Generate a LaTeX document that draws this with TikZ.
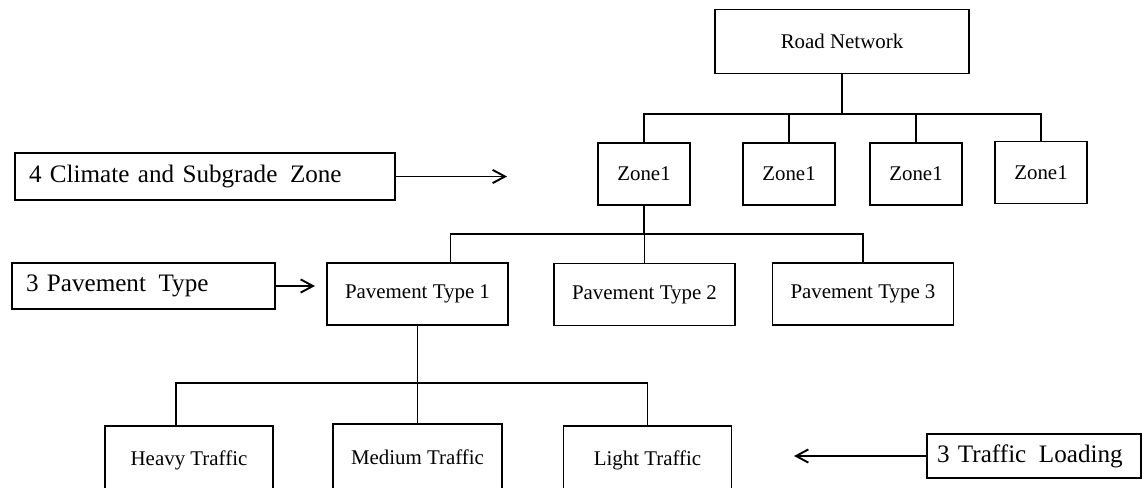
\documentclass[tikz,border=0pt]{standalone}
\usepackage{fontspec}
\setmainfont{Liberation Serif}
\usetikzlibrary{arrows.meta, positioning, calc}

\begin{document}
\begin{tikzpicture}[
  x=0.02cm, y=-0.02cm,
  box/.style={rectangle, draw=black, line width=1.1pt, inner sep=0pt,
              font=\fontsize{11.9}{14}\selectfont, align=center},
  tagbox/.style={rectangle, draw=black, line width=1.1pt, inner ysep=0pt,
                 font=\fontsize{14.3}{17}\selectfont, align=left},
  >={Straight Barb[length=7pt, width=7.5pt]},
  line width=1.1pt
]
\useasboundingbox (0,0) rectangle (1143,487);
\clip (0,0) rectangle (1143,487);

% ── Top of the tree ──
\node[box, minimum width=5.08cm, minimum height=1.28cm] (road) at (842,41.5) {Road Network};

% ── Zones ──
\node[box, minimum width=1.84cm, minimum height=1.24cm] (z1) at (644,174) {Zone1};
\node[box, minimum width=1.84cm, minimum height=1.24cm] (z2) at (789,174) {Zone1};
\node[box, minimum width=1.84cm, minimum height=1.24cm] (z3) at (916,174) {Zone1};
\node[box, minimum width=1.84cm, minimum height=1.24cm] (z4) at (1041,172.5) {Zone1};

% ── Pavement types ──
\node[box, minimum width=3.62cm, minimum height=1.24cm] (pt1) at (417.5,294) {Pavement Type 1};
\node[box, minimum width=3.62cm, minimum height=1.24cm] (pt2) at (644.5,294.5) {Pavement Type 2};
\node[box, minimum width=3.62cm, minimum height=1.24cm] (pt3) at (863,294) {Pavement Type 3};

% ── Traffic levels ──
\node[box, minimum width=3.36cm, minimum height=1.36cm] (heavy) at (189,460) {Heavy Traffic};
\node[box, minimum width=3.38cm, minimum height=1.32cm] (medium) at (417.5,457) {Medium Traffic};
\node[box, minimum width=3.36cm, minimum height=1.36cm] (light) at (647.5,460) {Light Traffic};

% ── Side tags ──
\node[tagbox, inner xsep=0.28cm, text width=7.04cm, minimum height=0.94cm] (climtag) at (205,176.5)
  {\mbox{4 Climate and Subgrade\hspace{0.5em}Zone}};
\node[tagbox, inner xsep=0.28cm, text width=4.70cm, minimum height=0.92cm] (pavtag) at (143.5,286)
  {\mbox{3 Pavement\hspace{0.5em}Type}};
\node[tagbox, inner xsep=0.20cm, text width=3.88cm, minimum height=0.88cm] (traftag) at (1034,456)
  {\mbox{3 Traffic\hspace{0.5em}Loading}};

% ── Tree connectors ──
\coordinate (zbus) at (843,114);
\coordinate (pbus) at (644,234);
\coordinate (tbus) at (417,383);

\draw (road.south) -- (road.south |- zbus);
\draw (z1.north) |- (z4.north |- zbus) -- (z4.north);
\draw (z2.north) -- (z2.north |- zbus);
\draw (z3.north) -- (z3.north |- zbus);

\draw (z1.south) -- (z1.south |- pbus);
\draw ($(pt1.north)+(33,0)$) |- (pt3.north |- pbus) -- (pt3.north);
\draw (pt2.north) -- (pt2.north |- pbus);

\draw (pt1.south) -- (medium.north);
\draw ($(heavy.north)+(-13,0)$) |- (light.north |- tbus) -- (light.north);

% ── Tag arrows ──
\coordinate (climtip) at (507,176.5);
\coordinate (pavtip) at (315,286);
\coordinate (traftip) at (794,456);
\draw[->] (climtag.east) -- (climtip);
\draw[->] (pavtag.east) -- (pavtip);
\draw[->] (traftag.west) -- (traftip);

\end{tikzpicture}
\end{document}
